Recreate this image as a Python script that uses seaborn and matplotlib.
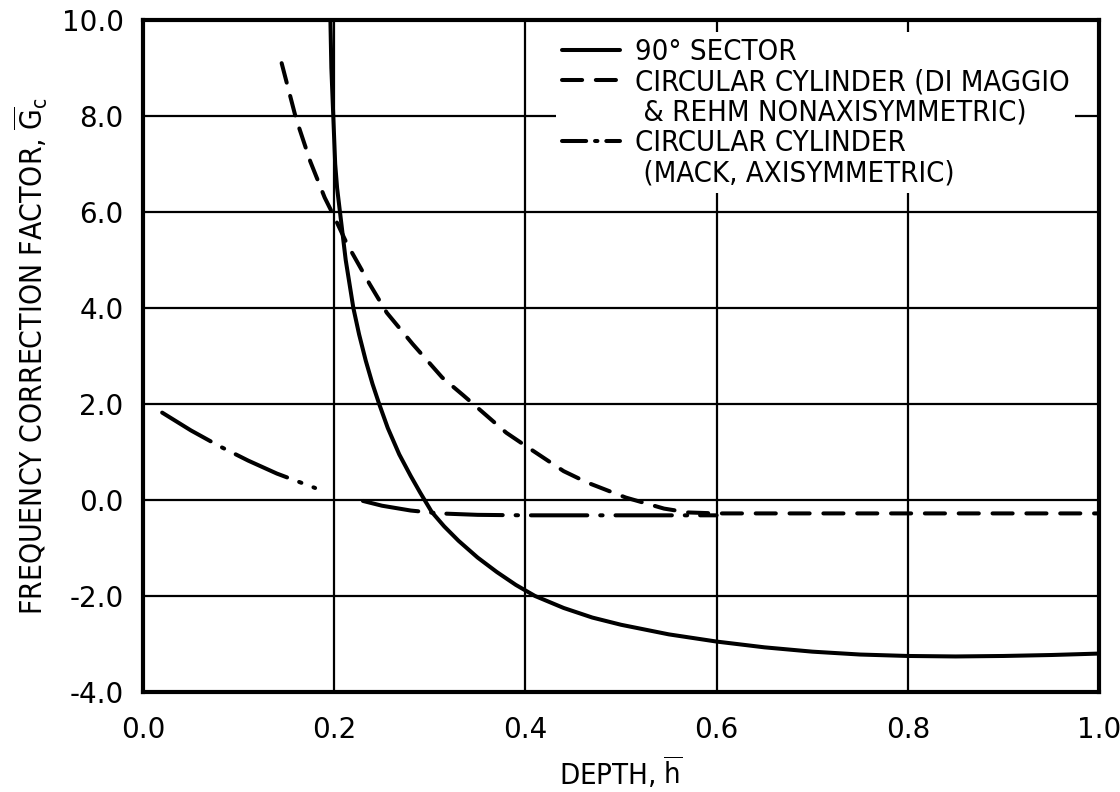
import matplotlib
matplotlib.use("Agg")
import matplotlib.pyplot as plt
from matplotlib.lines import Line2D
import seaborn as sns
import pandas as pd

# ---- data ----
sector_x = [0.196, 0.197, 0.199, 0.201, 0.203, 0.206, 0.212, 0.220, 0.226, 0.233,
            0.240, 0.247, 0.256, 0.268, 0.280, 0.290, 0.302, 0.315, 0.330, 0.350,
            0.370, 0.390, 0.410, 0.440, 0.470, 0.500, 0.550, 0.600, 0.650, 0.700,
            0.750, 0.800, 0.850, 0.900, 0.950, 1.000]
sector_y = [10.0, 9.0, 8.0, 7.0, 6.5, 6.0, 5.0, 4.0, 3.45, 2.9,
            2.42, 2.0, 1.5, 0.95, 0.5, 0.15, -0.25, -0.55, -0.85, -1.2,
            -1.5, -1.77, -2.0, -2.25, -2.45, -2.6, -2.8, -2.95, -3.07, -3.16,
            -3.22, -3.25, -3.26, -3.25, -3.23, -3.2]

dimaggio_x = [0.145, 0.160, 0.175, 0.190, 0.200, 0.213, 0.237, 0.255, 0.282, 0.313,
              0.335, 0.380, 0.400, 0.440, 0.465, 0.505, 0.545, 0.570, 0.600, 0.700,
              0.800, 0.900, 1.000]
dimaggio_y = [9.1, 7.95, 7.05, 6.3, 5.9, 5.35, 4.5, 3.9, 3.25, 2.55,
              2.18, 1.4, 1.13, 0.6, 0.36, 0.05, -0.18, -0.26, -0.28, -0.28,
              -0.28, -0.28, -0.28]

mack1_x = [0.020, 0.050, 0.080, 0.110, 0.140, 0.180]
mack1_y = [1.82, 1.45, 1.12, 0.82, 0.55, 0.25]
mack2_x = [0.230, 0.250, 0.280, 0.310, 0.350, 0.400, 0.500, 0.600]
mack2_y = [-0.02, -0.12, -0.22, -0.28, -0.31, -0.32, -0.32, -0.32]

x_ticks = [0.0, 0.2, 0.4, 0.6, 0.8, 1.0]
x_tick_labels = ["0.0", "0.2", "0.4", "0.6", "0.8", "1.0"]
y_ticks = [-4.0, -2.0, 0.0, 2.0, 4.0, 6.0, 8.0, 10.0]
y_tick_labels = ["-4.0", "-2.0", "0.0", "2.0", "4.0", "6.0", "8.0", "10.0"]

legend_lines = ["90° SECTOR",
                "CIRCULAR CYLINDER (DI MAGGIO",
                " & REHM NONAXISYMMETRIC)",
                "CIRCULAR CYLINDER",
                " (MACK, AXISYMMETRIC)"]

# ---- style ----
sns.set_style("white")
plt.rcParams["font.family"] = ["DejaVu Sans"]
plt.rcParams["font.stretch"] = "condensed"
plt.rcParams["mathtext.fontset"] = "custom"
plt.rcParams["mathtext.rm"] = "DejaVu Sans:stretch=condensed"
plt.rcParams["mathtext.it"] = "DejaVu Sans:stretch=condensed"
for key in ("text.color", "axes.labelcolor", "xtick.color", "ytick.color"):
    plt.rcParams[key] = "black"

fig = plt.figure(figsize=(11.2, 7.92), dpi=100)
ax = fig.add_axes([0.1277, 0.1263, 0.8536, 0.8485])

lw = 2.9
DASHED = (5.0, 3.4)
DASHDOT = (14, 3.2, 0.6, 3.2)

df_s = pd.DataFrame({"x": sector_x, "y": sector_y})
df_d = pd.DataFrame({"x": dimaggio_x, "y": dimaggio_y})
df_m1 = pd.DataFrame({"x": mack1_x, "y": mack1_y})
df_m2 = pd.DataFrame({"x": mack2_x, "y": mack2_y})

sns.lineplot(data=df_s, x="x", y="y", ax=ax, color="black", lw=lw, sort=False, zorder=3)
l_s = ax.lines[-1]
l_s.set_solid_joinstyle("round")
sns.lineplot(data=df_d, x="x", y="y", ax=ax, color="black", lw=lw, sort=False, zorder=3)
l_d = ax.lines[-1]
l_d.set_dashes(DASHED)
l_d.set_dash_capstyle("round")
sns.lineplot(data=df_m1, x="x", y="y", ax=ax, color="black", lw=lw, sort=False, zorder=3)
l_m1 = ax.lines[-1]
sns.lineplot(data=df_m2, x="x", y="y", ax=ax, color="black", lw=lw, sort=False, zorder=3)
l_m2 = ax.lines[-1]
for ln in (l_m1, l_m2):
    ln.set_dashes(DASHDOT)
    ln.set_dash_capstyle("round")

ax.set_xlim(0, 1.0)
ax.set_ylim(-4.0, 10.0)
ax.set_xticks(x_ticks)
ax.set_xticklabels(x_tick_labels)
ax.set_yticks(y_ticks)
ax.set_yticklabels(y_tick_labels)
ax.grid(True, color="black", lw=1.6, zorder=1)
ax.set_axisbelow(True)
ax.tick_params(axis="x", length=0, labelsize=20, pad=17, colors="black")
ax.tick_params(axis="y", length=0, labelsize=20, pad=14, colors="black")
for t in ax.get_xticklabels() + ax.get_yticklabels():
    t.set_fontstretch("normal")
for sp in ax.spines.values():
    sp.set_visible(True)
    sp.set_color("black")
    sp.set_linewidth(3.0)

ax.set_xlabel(r"DEPTH, $\overline{\mathrm{h}}$", fontsize=21, labelpad=8, color="black")
ax.set_ylabel(r"FREQUENCY CORRECTION FACTOR, $\overline{\mathrm{G}}_\mathrm{c}$",
              fontsize=21.5, labelpad=8, color="black")

# legend: one row per printed line, continuation rows have no handle
blank = Line2D([], [], color="none", lw=0)
h_s = Line2D([], [], color="black", lw=lw)
h_d = Line2D([], [], color="black", lw=lw, dashes=DASHED, dash_capstyle="round")
h_m = Line2D([], [], color="black", lw=lw, dashes=(6, 2.2, 0.6, 2.2), dash_capstyle="round")
handles = [h_s, h_d, blank, h_m, blank]
leg = ax.legend(handles, legend_lines, loc="upper left", bbox_to_anchor=(0.432, 0.982),
                frameon=True, fontsize=21, handlelength=2.0, handletextpad=0.5,
                labelspacing=0.08, borderpad=0.2, borderaxespad=0.0, fancybox=False)
frame = leg.get_frame()
frame.set_facecolor("white")
frame.set_edgecolor("none")
frame.set_alpha(1.0)
for t in leg.get_texts():
    t.set_color("black")
leg.set_zorder(5)

fig.savefig("out.png", dpi=100)
